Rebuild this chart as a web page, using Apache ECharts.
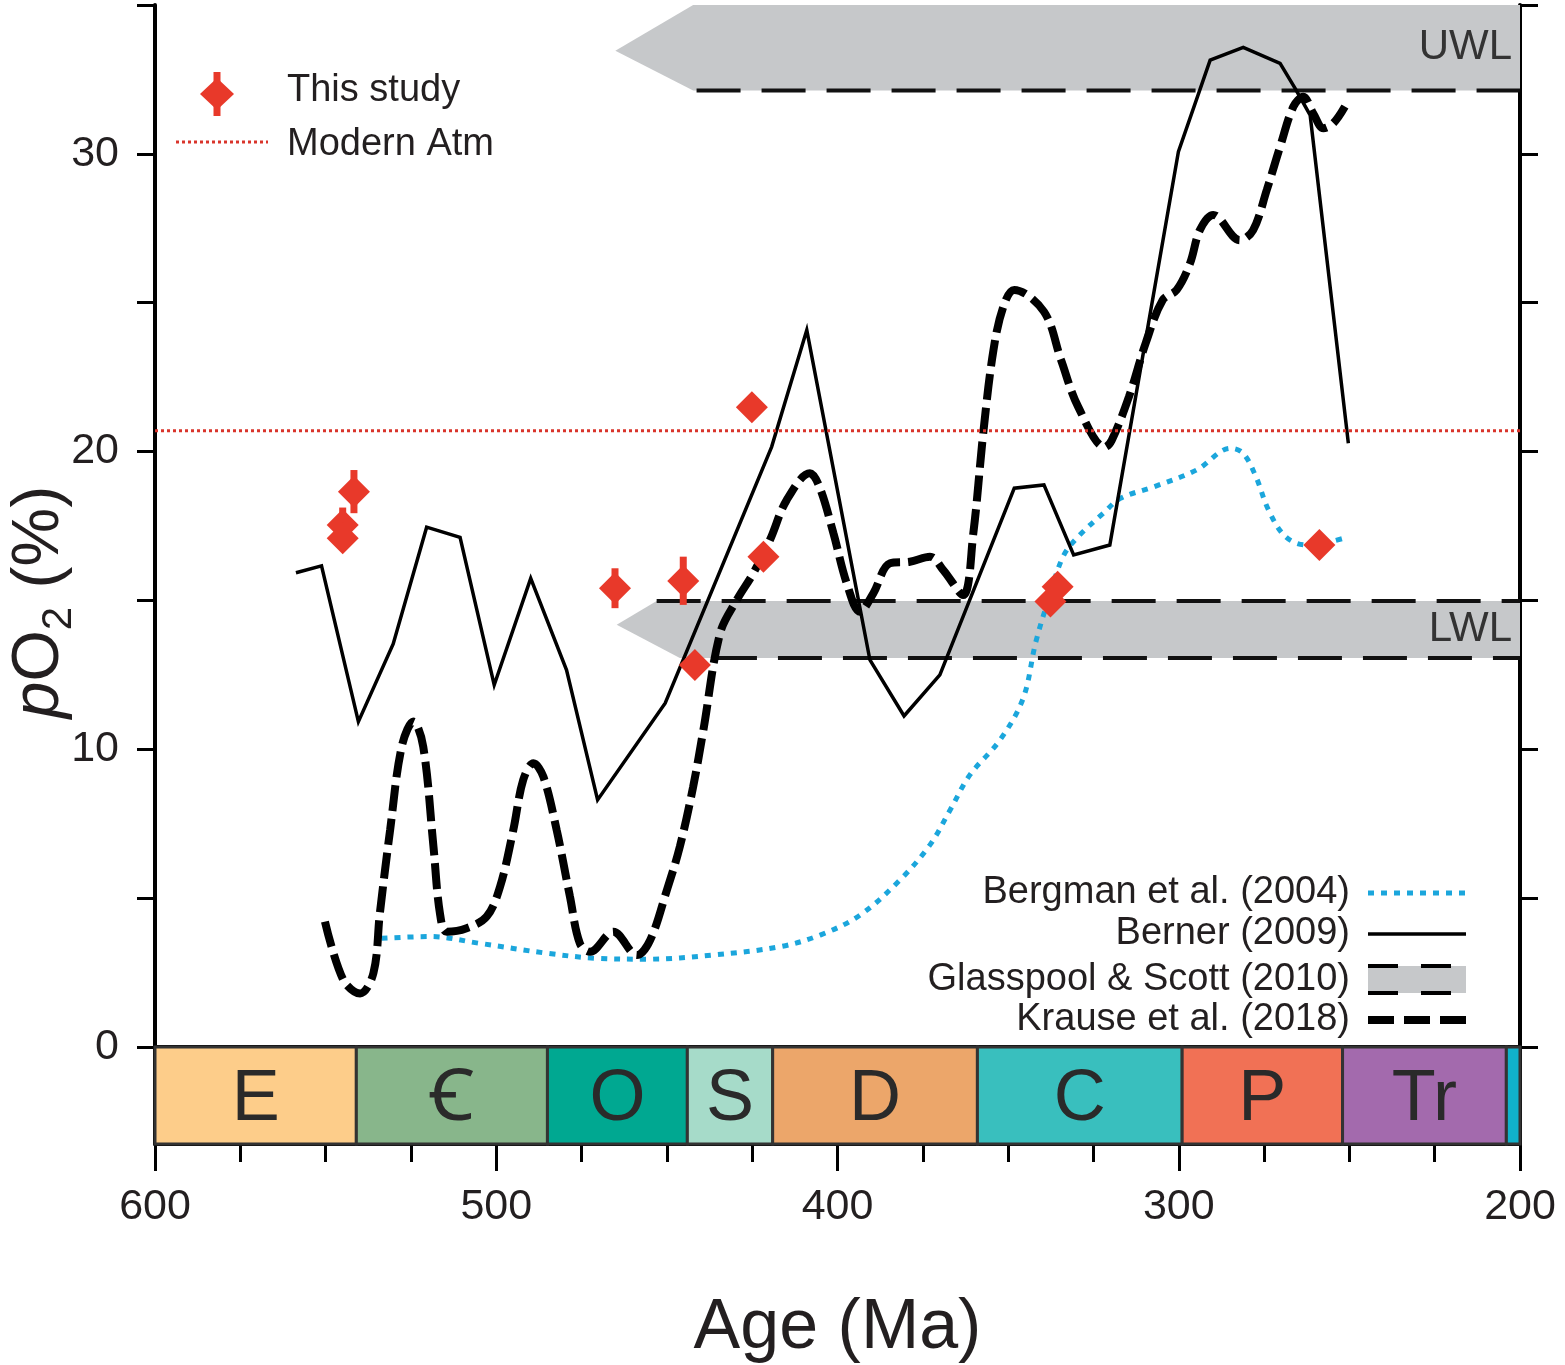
<!DOCTYPE html>
<html>
<head>
<meta charset="utf-8">
<script src="https://cdn.jsdelivr.net/npm/echarts@6/dist/echarts.min.js"></script>
<style>
  html, body { margin: 0; padding: 0; background: #fff; }
  #myChart { width: 1565px; height: 1365px; }
</style>
</head>
<body>
<div id="myChart"></div>
<script>
// pO2 through the Phanerozoic, ages in Ma, values in %
var FONT = '"Liberation Sans", Arial, "Noto Sans", "DejaVu Sans", sans-serif';
var RED = '#e8392a';
var INK = '#231f20';

// Berner (2009), solid
var berner = [[558.7,15.93],[551.2,16.16],[540.4,10.93],[530.2,13.54],[520.4,17.46],[510.6,17.12],
  [500.6,12.16],[489.9,15.74],[479.4,12.66],[470.3,8.30],[450.5,11.55],[419.3,20.16],[409,24.08],
  [390.5,13.0],[380.5,11.12],[370,12.5],[348.2,18.77],[339.5,18.88],[330.8,16.53],[320.2,16.86],
  [300.1,30.07],[290.8,33.15],[281.1,33.58],[270.3,33.04],[265.9,32.2],[261.5,31.3],[250.3,20.28]];

// Krause et al. (2018), thick dashed
var krause = [[550.2,4.21],[544.8,2.25],[539.9,1.80],[536.0,2.48],[534.1,4.5],[531.1,7.29],[527.7,10.09],
  [524.3,10.93],[521.4,10.09],[518.4,6.73],[516.5,4.49],[514.5,3.87],[508.7,3.99],[502.8,4.38],
  [498.9,5.38],[495.0,7.29],[492.1,8.97],[489.1,9.53],[486.2,9.08],[482.3,7.29],[478.4,5.05],
  [475.5,3.48],[472.5,3.2],[465.7,3.87],[458.8,3.09],[454.9,3.59],[450.0,5.27],[446.2,6.73],
  [442.3,8.74],[439.3,10.65],[434.4,13.9],[429.5,15.02],[424.7,15.91],[419.8,17.03],[414.9,18.37],
  [408.1,19.27],[405.3,18.82],[401.2,17.26],[397.3,15.58],[393.4,14.62],[389.5,15.24],[384.6,16.25],
  [378.8,16.3],[372.9,16.47],[369.0,16.02],[363.2,15.18],[360.2,17.26],[357.3,20.61],[354.3,23.41],
  [351.4,24.87],[348.2,25.43],[339.5,24.7],[334.5,23.08],[329.5,21.51],[321.6,20.15],[319.6,20.39],
  [314.6,21.84],[309.7,23.64],[304.7,25.09],[300.6,25.43],[296.7,26.32],[293.8,27.44],[289.9,27.95],
  [282.1,27.1],[278.2,27.44],[274.2,28.79],[270.3,30.24],[266.4,31.59],[263.5,31.92],[260.6,31.36],
  [257.6,30.86],[254.7,31.03],[251.3,31.59]];

// Bergman et al. (2004), cyan dotted
var bergman = [[533.6,3.65],[519.4,3.71],[504.8,3.48],[485.2,3.15],[470.6,2.98],[455.9,2.95],[436.4,3.09],
  [416.8,3.37],[405.1,3.76],[393.4,4.43],[381.7,5.61],[372.9,6.79],[367.0,7.96],[361.2,9.14],
  [352.4,10.31],[345.6,11.71],[341.9,13.6],[338.2,15.02],[333.9,16.47],[329.5,17.14],[322.1,17.93],
  [317.1,18.43],[307.2,18.82],[294.8,19.38],[284.8,20.11],[281.1,19.94],[277.4,19.16],[273.7,18.04],
  [268.7,17.14],[262.5,16.86],[257.5,16.92],[250.7,17.12]];

// This study: [age, pO2] and error bars [age, low, high]
var thisStudy = [[541.7,18.65],[545.0,17.53],[545.0,17.09],[465.2,15.41],[445.2,15.65],[441.8,12.83],
  [425.1,21.49],[421.7,16.47],[335.5,15.46],[337.6,14.96],[258.8,16.86]];
var studyErr = [[541.7,17.93,19.38],[545.0,16.95,18.12],[465.2,14.74,16.08],[445.2,14.85,16.47]];

var modernAtm = 20.7;

// Glasspool & Scott (2010) windows
var bandNames = ['UWL', 'LWL'];
var uwlShape = [[442.3,35],[465.1,33.46],[442.3,32.13],[200,32.13],[200,35]];
var lwlShape = [[453.0,14.98],[464.7,14.18],[446.2,13.07],[200,13.07],[200,14.98]];
var bandShapes = [uwlShape, lwlShape];
var uwlDash = [[441.3,32.13],[200,32.13]];
var lwlTopDash = [[453.0,14.98],[200,14.98]];
var lwlBottomDash = [[436.5,13.07],[200,13.07]];

// geologic periods
var periodNames = ['E', '\uA792', 'O', 'S', 'D', 'C', 'P', 'Tr', ''];
var periodStart = [600, 541, 485, 444, 419, 359, 299, 252, 204];
var periodEnd = [541, 485, 444, 419, 359, 299, 252, 204, 200];
var periodColors = ['#fdcd8a', '#88b68b', '#00a891', '#a6dbc9', '#eca66a', '#39bfbe', '#f17155', '#a36aad', '#10b2cb'];

var xTicks = [600, 500, 400, 300, 200];
var yTicks = [0, 10, 20, 30];

var chart = echarts.init(document.getElementById('myChart'));

function bandItem(params, api) {
  var shape = bandShapes[params.dataIndex];
  var pts = shape.map(function (p) { return api.coord(p); });
  var top = api.coord([200, shape[0][1]]);
  var bot = api.coord([200, shape[2][1]]);
  return {
    type: 'group',
    children: [{
      type: 'polygon',
      shape: { points: pts },
      style: { fill: '#c6c8ca' }
    }, {
      type: 'text',
      x: top[0] - 8,
      y: (top[1] + bot[1]) / 2,
      style: {
        text: bandNames[params.dataIndex],
        font: '42px ' + FONT,
        fill: '#333',
        align: 'right',
        verticalAlign: 'middle'
      }
    }]
  };
}

function periodItem(params, api) {
  var i = params.dataIndex;
  var p0 = api.coord([periodStart[i], 1]);
  var p1 = api.coord([periodEnd[i], 0]);
  return {
    type: 'group',
    children: [{
      type: 'rect',
      shape: { x: p0[0], y: p0[1], width: p1[0] - p0[0], height: p1[1] - p0[1] },
      style: { fill: periodColors[i], stroke: '#333', lineWidth: 3 }
    }, {
      type: 'text',
      x: (p0[0] + p1[0]) / 2,
      y: (p0[1] + p1[1]) / 2 + 5,
      style: {
        text: periodNames[i],
        font: '72px ' + FONT,
        fill: '#2a2a2a',
        align: 'center',
        verticalAlign: 'middle'
      }
    }]
  };
}

function errItem(params, api) {
  var hi = api.coord([api.value(0), api.value(2)]);
  var lo = api.coord([api.value(0), api.value(1)]);
  return {
    type: 'rect',
    shape: { x: hi[0] - 3.5, y: hi[1], width: 7, height: lo[1] - hi[1] },
    style: { fill: RED }
  };
}

function dashLine(name, data) {
  return {
    name: name, type: 'line', data: data, symbol: 'none', silent: true, z: 3,
    lineStyle: { color: '#111', width: 4, type: [44, 21] }
  };
}

var axisLine = { show: true, lineStyle: { color: '#000', width: 4 } };

chart.setOption({
  animation: false,
  backgroundColor: '#fff',
  textStyle: { fontFamily: FONT },
  grid: [
    { left: 155, right: 45, top: 5, height: 1042 },
    { left: 155, right: 45, top: 1047, height: 105 }
  ],
  xAxis: [
    { type: 'value', gridIndex: 0, min: 200, max: 600, inverse: true, position: 'bottom',
      axisLine: axisLine, axisTick: { show: false }, axisLabel: { show: false }, splitLine: { show: false } },
    { type: 'value', gridIndex: 0, min: 200, max: 600, inverse: true, position: 'top',
      axisLine: axisLine, axisTick: { show: false }, axisLabel: { show: false }, splitLine: { show: false } },
    { type: 'value', gridIndex: 1, min: 200, max: 600, interval: 100, inverse: true, position: 'bottom',
      axisLine: axisLine,
      axisTick: { show: true, length: 27, lineStyle: { color: '#000', width: 3 } },
      minorTick: { show: true, splitNumber: 4, length: 18, lineStyle: { color: '#000', width: 3 } },
      axisLabel: { margin: 42, fontSize: 43, color: INK, fontFamily: FONT,
        formatter: function (v) { return xTicks.indexOf(v) > -1 ? String(v) : ''; } },
      splitLine: { show: false },
      name: 'Age (Ma)', nameLocation: 'middle', nameGap: 150,
      nameTextStyle: { fontSize: 70, color: INK, fontFamily: FONT } }
  ],
  yAxis: [
    { type: 'value', gridIndex: 0, min: 0, max: 35, interval: 5, position: 'left',
      axisLine: axisLine,
      axisTick: { show: true, length: 18, lineStyle: { color: '#000', width: 3 } },
      axisLabel: { margin: 36, fontSize: 43, color: INK, fontFamily: FONT,
        formatter: function (v) { return yTicks.indexOf(v) > -1 ? String(v) : ''; } },
      splitLine: { show: false } },
    { type: 'value', gridIndex: 0, min: 0, max: 35, interval: 5, position: 'right',
      axisLine: axisLine,
      axisTick: { show: true, length: 18, lineStyle: { color: '#000', width: 3 } },
      axisLabel: { show: false }, splitLine: { show: false } },
    { type: 'value', gridIndex: 1, min: 0, max: 1, position: 'left',
      axisLine: axisLine, axisTick: { show: false }, axisLabel: { show: false }, splitLine: { show: false } },
    { type: 'value', gridIndex: 1, min: 0, max: 1, position: 'right',
      axisLine: axisLine, axisTick: { show: false }, axisLabel: { show: false }, splitLine: { show: false } }
  ],
  series: [
    { name: 'Glasspool & Scott (2010)', type: 'custom', xAxisIndex: 0, yAxisIndex: 0,
      renderItem: bandItem, data: bandNames, silent: true, z: 1 },
    dashLine('UWL', uwlDash),
    dashLine('LWL top', lwlTopDash),
    dashLine('LWL bottom', lwlBottomDash),
    { name: 'Bergman et al. (2004)', type: 'line', data: bergman, symbol: 'none', smooth: 0.35,
      silent: true, z: 4,
      lineStyle: { color: '#1ba6dc', width: 5, type: [6, 7] } },
    { name: 'Berner (2009)', type: 'line', data: berner, symbol: 'none', silent: true, z: 5,
      lineStyle: { color: '#000', width: 3.5, join: 'miter' } },
    { name: 'Krause et al. (2018)', type: 'line', data: krause, symbol: 'none', smooth: 0.35,
      silent: true, z: 6,
      lineStyle: { color: '#000', width: 8, type: [26, 8] } },
    { name: 'Modern Atm', type: 'line', data: [[600, modernAtm], [200, modernAtm]], symbol: 'none',
      silent: true, z: 7, lineStyle: { color: '#d9342b', width: 3, type: [3, 3] } },
    { name: 'error', type: 'custom', renderItem: errItem, data: studyErr, silent: true, z: 8 },
    { name: 'This study', type: 'scatter', data: thisStudy, symbol: 'diamond', symbolSize: 32,
      itemStyle: { color: RED, opacity: 1 }, silent: true, z: 9 },
    { name: 'periods', type: 'custom', xAxisIndex: 2, yAxisIndex: 2, renderItem: periodItem,
      data: periodNames, silent: true, z: 2 }
  ],
  graphic: [
    // y-axis title
    { type: 'text', x: 40, y: 602, rotation: Math.PI / 2,
      style: { text: '{i|p}{n|O}{s|2}{n| (%)}', align: 'center', verticalAlign: 'middle',
        rich: {
          i: { fontSize: 66, fontStyle: 'italic', fontFamily: FONT, fill: INK, lineHeight: 80, verticalAlign: 'middle' },
          n: { fontSize: 66, fontFamily: FONT, fill: INK, lineHeight: 80, verticalAlign: 'middle' },
          s: { fontSize: 42, fontFamily: FONT, fill: INK, lineHeight: 36, verticalAlign: 'bottom' }
        } } },
    // top-left legend
    { type: 'rect', shape: { x: 213.5, y: 72, width: 7, height: 44 }, style: { fill: RED } },
    { type: 'polygon', shape: { points: [[217, 78], [234, 94], [217, 110], [200, 94]] }, style: { fill: RED } },
    { type: 'text', x: 287, y: 91, style: { text: 'This study', font: '38px ' + FONT, fill: INK, verticalAlign: 'middle' } },
    { type: 'line', shape: { x1: 176, y1: 142, x2: 268, y2: 142 },
      style: { stroke: '#d9342b', lineWidth: 3, lineDash: [3, 3] } },
    { type: 'text', x: 287, y: 145, style: { text: 'Modern Atm', font: '38px ' + FONT, fill: INK, verticalAlign: 'middle' } },
    // bottom-right legend
    { type: 'text', x: 1350, y: 893, style: { text: 'Bergman et al. (2004)', font: '38px ' + FONT, fill: INK, align: 'right', verticalAlign: 'middle' } },
    { type: 'line', shape: { x1: 1368, y1: 893, x2: 1466, y2: 893 }, style: { stroke: '#1ba6dc', lineWidth: 5, lineDash: [6, 7] } },
    { type: 'text', x: 1350, y: 934, style: { text: 'Berner (2009)', font: '38px ' + FONT, fill: INK, align: 'right', verticalAlign: 'middle' } },
    { type: 'line', shape: { x1: 1368, y1: 934, x2: 1466, y2: 934 }, style: { stroke: '#000', lineWidth: 3.5 } },
    { type: 'text', x: 1350, y: 980, style: { text: 'Glasspool & Scott (2010)', font: '38px ' + FONT, fill: INK, align: 'right', verticalAlign: 'middle' } },
    { type: 'rect', shape: { x: 1368, y: 966, width: 98, height: 27 }, style: { fill: '#c6c8ca' } },
    { type: 'line', shape: { x1: 1368, y1: 966, x2: 1466, y2: 966 }, style: { stroke: '#000', lineWidth: 4, lineDash: [30, 23] } },
    { type: 'line', shape: { x1: 1368, y1: 993, x2: 1466, y2: 993 }, style: { stroke: '#000', lineWidth: 4, lineDash: [30, 23] } },
    { type: 'text', x: 1350, y: 1020, style: { text: 'Krause et al. (2018)', font: '38px ' + FONT, fill: INK, align: 'right', verticalAlign: 'middle' } },
    { type: 'line', shape: { x1: 1368, y1: 1020, x2: 1466, y2: 1020 }, style: { stroke: '#000', lineWidth: 8, lineDash: [26, 10] } }
  ]
});

window.addEventListener('resize', function () { chart && chart.resize(); });
</script>
</body>
</html>
